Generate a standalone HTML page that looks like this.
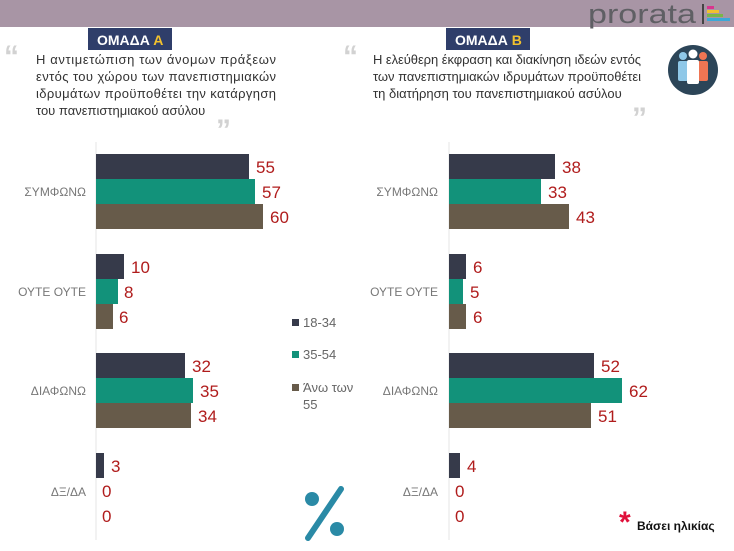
<!DOCTYPE html>
<html><head><meta charset="utf-8"><style>
html,body{margin:0;padding:0;background:#fff;}
svg{display:block;font-family:"Liberation Sans","Noto Sans CJK SC",sans-serif;}
</style></head><body>
<svg width="734" height="551" viewBox="0 0 734 551" xmlns="http://www.w3.org/2000/svg">
<rect x="0" y="0" width="734" height="27" fill="#a895a5"/>
<text x="588" y="23" font-size="27" fill="#5f5f64" textLength="108" lengthAdjust="spacingAndGlyphs">prorata</text>
<rect x="702" y="4" width="2" height="20" fill="#444"/>
<rect x="707" y="6" width="7" height="3" fill="#d9358e"/>
<rect x="707" y="10" width="12" height="3" fill="#f1c12e"/>
<rect x="707" y="14" width="16" height="3" fill="#7ab648"/>
<rect x="707" y="18" width="23" height="3" fill="#3ba8d8"/>

<g font-size="30" font-weight="bold" fill="#d2d2d2" font-family="Liberation Sans,sans-serif">
<text x="4" y="66">“</text>
<text x="343" y="66">“</text>
<text x="216" y="140">”</text>
<text x="632" y="128">”</text>
</g>

<rect x="88" y="28" width="84" height="22" fill="#2f3e6a"/>
<text x="97" y="45" font-size="14" font-weight="bold" fill="#fff">ΟΜΑΔΑ <tspan fill="#f2c12e">Α</tspan></text>
<rect x="446" y="28" width="84" height="22" fill="#2f3e6a"/>
<text x="455" y="45" font-size="14" font-weight="bold" fill="#fff">ΟΜΑΔΑ <tspan fill="#f2c12e">Β</tspan></text>

<g font-size="13" fill="#333">
<text x="36" y="64" textLength="240" lengthAdjust="spacing">Η αντιμετώπιση των άνομων πράξεων</text>
<text x="36" y="81" textLength="240" lengthAdjust="spacing">εντός του χώρου των πανεπιστημιακών</text>
<text x="36" y="98" textLength="240" lengthAdjust="spacing">ιδρυμάτων προϋποθέτει την κατάργηση</text>
<text x="36" y="115">του πανεπιστημιακού ασύλου</text>
<text x="373" y="64" textLength="268" lengthAdjust="spacing">Η ελεύθερη έκφραση και διακίνηση ιδεών εντός</text>
<text x="373" y="81" textLength="268" lengthAdjust="spacing">των πανεπιστημιακών ιδρυμάτων προϋποθέτει</text>
<text x="373" y="98">τη διατήρηση του πανεπιστημιακού ασύλου</text>
</g>

<circle cx="693" cy="70" r="25" fill="#2c4558"/>
<g>
<circle cx="683" cy="56" r="4" fill="#8fc8e8"/><rect x="678" y="61" width="10" height="20" rx="2" fill="#8fc8e8"/>
<circle cx="703" cy="56" r="4" fill="#ef7553"/><rect x="698" y="61" width="10" height="20" rx="2" fill="#ef7553"/>
<circle cx="693" cy="54" r="4.5" fill="#fff"/><rect x="687" y="60" width="12" height="24" rx="2" fill="#fff"/>
</g>

<!-- left chart -->
<line x1="96" y1="142" x2="96" y2="540" stroke="#e6e6e6"/>
<g fill="#363a4a"><rect x="96" y="154" width="153" height="25"/><rect x="96" y="254" width="28" height="25"/><rect x="96" y="353" width="89" height="25"/><rect x="96" y="453" width="8" height="25"/></g>
<g fill="#12927a"><rect x="96" y="179" width="159" height="25"/><rect x="96" y="279" width="22" height="25"/><rect x="96" y="378" width="97" height="25"/></g>
<g fill="#675b4a"><rect x="96" y="204" width="167" height="25"/><rect x="96" y="304" width="17" height="25"/><rect x="96" y="403" width="95" height="25"/></g>
<g font-size="17" fill="#b01c1c">
<text x="256" y="173">55</text><text x="262" y="198">57</text><text x="270" y="223">60</text>
<text x="131" y="273">10</text><text x="124" y="298">8</text><text x="119" y="323">6</text>
<text x="192" y="372">32</text><text x="200" y="397">35</text><text x="198" y="422">34</text>
<text x="111" y="472">3</text><text x="102" y="497">0</text><text x="102" y="522">0</text>
</g>
<g font-size="12" fill="#777" text-anchor="end">
<text x="86" y="196">ΣΥΜΦΩΝΩ</text><text x="86" y="296">ΟΥΤΕ ΟΥΤΕ</text><text x="86" y="395">ΔΙΑΦΩΝΩ</text><text x="86" y="496">ΔΞ/ΔΑ</text>
</g>

<!-- right chart -->
<line x1="449" y1="142" x2="449" y2="540" stroke="#e6e6e6"/>
<g fill="#363a4a"><rect x="449" y="154" width="106" height="25"/><rect x="449" y="254" width="17" height="25"/><rect x="449" y="353" width="145" height="25"/><rect x="449" y="453" width="11" height="25"/></g>
<g fill="#12927a"><rect x="449" y="179" width="92" height="25"/><rect x="449" y="279" width="14" height="25"/><rect x="449" y="378" width="173" height="25"/></g>
<g fill="#675b4a"><rect x="449" y="204" width="120" height="25"/><rect x="449" y="304" width="17" height="25"/><rect x="449" y="403" width="142" height="25"/></g>
<g font-size="17" fill="#b01c1c">
<text x="562" y="173">38</text><text x="548" y="198">33</text><text x="576" y="223">43</text>
<text x="473" y="273">6</text><text x="470" y="298">5</text><text x="473" y="323">6</text>
<text x="601" y="372">52</text><text x="629" y="397">62</text><text x="598" y="422">51</text>
<text x="467" y="472">4</text><text x="455" y="497">0</text><text x="455" y="522">0</text>
</g>
<g font-size="12" fill="#777" text-anchor="end">
<text x="438" y="196">ΣΥΜΦΩΝΩ</text><text x="438" y="296">ΟΥΤΕ ΟΥΤΕ</text><text x="438" y="395">ΔΙΑΦΩΝΩ</text><text x="438" y="496">ΔΞ/ΔΑ</text>
</g>

<!-- legend -->
<rect x="292" y="319" width="7" height="7" fill="#363a4a"/>
<text x="303" y="327" font-size="13" fill="#666">18-34</text>
<rect x="292" y="351" width="7" height="7" fill="#12927a"/>
<text x="303" y="359" font-size="13" fill="#666">35-54</text>
<rect x="292" y="384" width="7" height="7" fill="#675b4a"/>
<text x="303" y="392" font-size="13" fill="#666">Άνω των</text>
<text x="303" y="409" font-size="13" fill="#666">55</text>

<!-- percent icon -->
<circle cx="312" cy="499" r="7" fill="#2a8aa6"/>
<circle cx="337" cy="529" r="7" fill="#2a8aa6"/>
<line x1="341" y1="489" x2="308" y2="538" stroke="#2a8aa6" stroke-width="6" stroke-linecap="round"/>

<text x="619" y="532" font-size="30" font-weight="bold" fill="#e0103a">*</text>
<text x="637" y="530" font-size="12" font-weight="bold" fill="#111">Βάσει ηλικίας</text>
</svg>
</body></html>
